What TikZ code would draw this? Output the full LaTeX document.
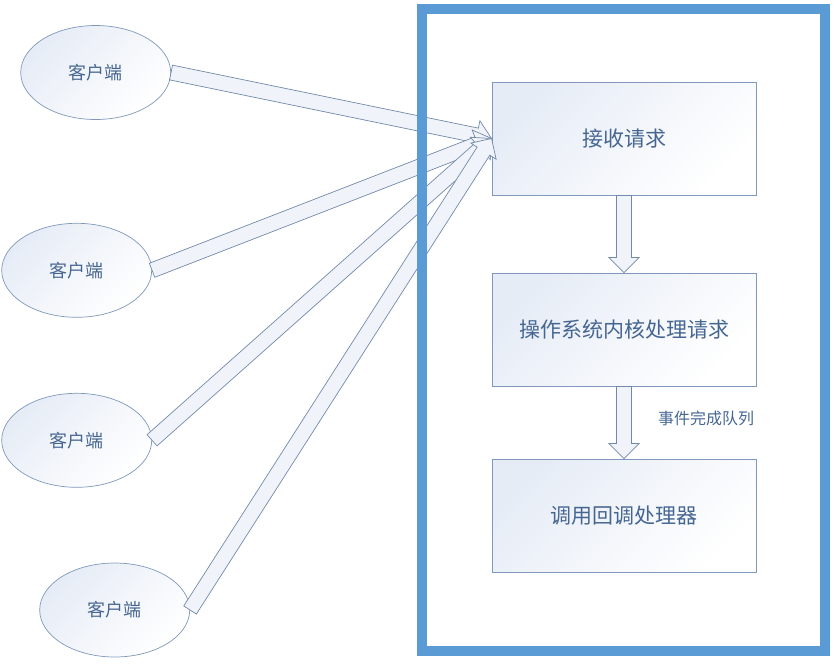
\documentclass[tikz,border=0pt]{standalone}
\usepackage{fontspec}
\setmainfont{Noto Sans CJK SC}
\usepackage{tikz}
\usetikzlibrary{shapes.geometric,calc}
\definecolor{framebl}{RGB}{91,155,213}
\definecolor{edgebl}{RGB}{128,152,188}
\definecolor{textbl}{RGB}{70,102,146}
\definecolor{shadebl}{RGB}{230,236,246}
\definecolor{arrfill}{RGB}{240,244,250}

\tikzset{
  client/.style={ellipse, draw=edgebl, line width=0.7pt, minimum width=150pt, minimum height=94pt,
    inner sep=0pt, top color=shadebl, bottom color=white, shading angle=45,
    text=textbl, font=\fontsize{18}{18}\selectfont},
  stage/.style={rectangle, draw=edgebl, line width=0.9pt, minimum width=264pt, minimum height=113pt,
    inner sep=0pt, top color=shadebl, bottom color=white, shading angle=45,
    text=textbl, font=\fontsize{21}{21}\selectfont},
  qlabel/.style={text=textbl, font=\fontsize{16}{16}\selectfont, inner sep=0pt},
  blockarr/.style={draw=edgebl!90!black, fill=arrfill, line width=0.7pt, line join=miter},
  frame/.style={draw=framebl, line width=10pt}
}

\newcommand{\blockarrow}[2]{%
  \coordinate (h) at ($(#2)!15pt!(#1)$);
  \filldraw[blockarr] ($(#1)!7.5pt!90:(#2)$) -- ($(h)!7.5pt!90:(#2)$) -- ($(h)!15pt!90:(#2)$)
    -- (#2) -- ($(h)!15pt!-90:(#2)$) -- ($(h)!7.5pt!-90:(#2)$) -- ($(#1)!7.5pt!-90:(#2)$) -- cycle;}

\begin{document}
\begin{tikzpicture}[x=1pt, y=-1pt]
    \useasboundingbox (0,0) rectangle (837,665);
    % clients
    \node[client] (c1) at (95.7,72.5) {客户端};
    \node[client] (c2) at (76.7,270.3) {客户端};
    \node[client] (c3) at (76.7,440.3) {客户端};
    \node[client] (c4) at (114.7,610) {客户端};
    % server side
    \node[stage] (recv) at (624,138.5) {接收请求};
    \node[stage] (kernel) at (624,329.5) {操作系统内核处理请求};
    \node[stage] (callback) at (624,515.5) {调用回调处理器};
    \node[qlabel, anchor=west] (queue) at (658,418) {事件完成队列};

    \foreach \c in {c1,c2,c3,c4}
        \blockarrow{\c.east}{recv.west};
    \blockarrow{recv.south}{kernel.north}
    \blockarrow{kernel.south}{callback.north}

    \draw[frame] (422,8.5) rectangle (825,650.5);
\end{tikzpicture}
\end{document}
